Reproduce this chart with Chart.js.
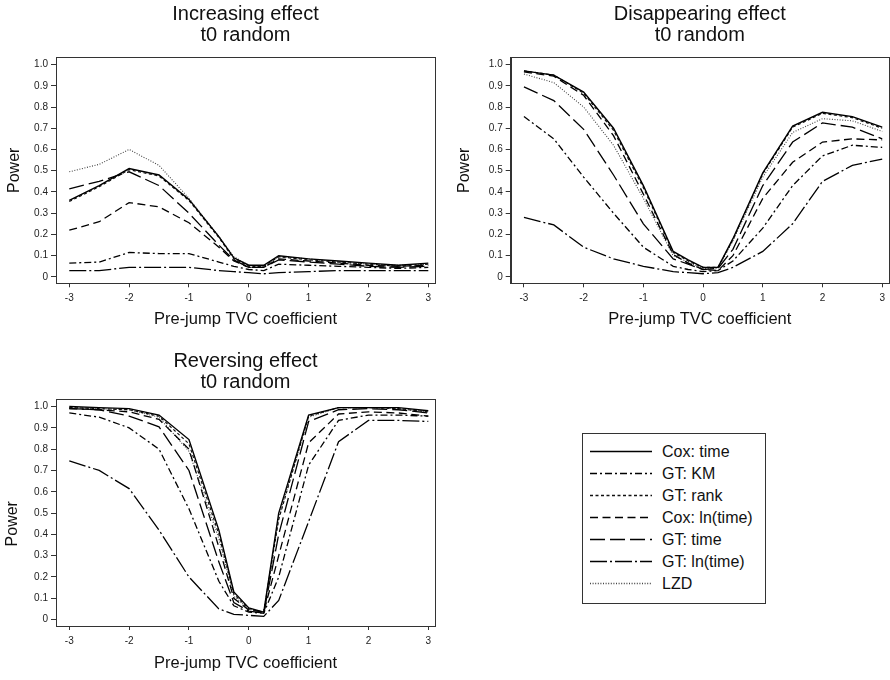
<!DOCTYPE html>
<html>
<head>
<meta charset="utf-8">
<script src="https://cdn.jsdelivr.net/npm/chart.js@4/dist/chart.umd.min.js"></script>
<style>
  html, body { margin: 0; padding: 0; background: #fff; }
  body { width: 890px; height: 680px; position: relative; overflow: hidden; font-family: "Liberation Sans", Arial, sans-serif; }
  canvas { position: absolute; }
  #legend { position: absolute; left: 582px; top: 433px; width: 184px; height: 171px; border: 1px solid #333; box-sizing: border-box; }
  #legend svg { position: absolute; left: 0; top: 0; }
  #legend .lbl { position: absolute; left: 79px; font-size: 16px; line-height: 18px; color: #111; white-space: nowrap; }
</style>
</head>
<body>
<canvas id="c1" width="445" height="340" style="left:0;top:0"></canvas>
<canvas id="c2" width="445" height="340" style="left:445px;top:0"></canvas>
<canvas id="c3" width="445" height="340" style="left:0;top:340px"></canvas>
<div id="legend"></div>
<script>
// ---------- data ----------
const xValues = [-3, -2.5, -2, -1.5, -1, -0.5, -0.25, 0, 0.25, 0.5, 1, 1.5, 2, 2.5, 3];
const xTicks = [-3, -2, -1, 0, 1, 2, 3];
const yTicks = [0, 0.1, 0.2, 0.3, 0.4, 0.5, 0.6, 0.7, 0.8, 0.9, 1.0];
const seriesNames = ['Cox: time', 'GT: KM', 'GT: rank', 'Cox: ln(time)', 'GT: time', 'GT: ln(time)', 'LZD'];
const panelTitles = [['Increasing effect', 't0 random'], ['Disappearing effect', 't0 random'], ['Reversing effect', 't0 random']];
const xAxisTitle = 'Pre-jump TVC coefficient';
const yAxisTitle = 'Power';

// Increasing effect
const incCoxTime = [0.36, 0.43, 0.51, 0.48, 0.365, 0.19, 0.09, 0.055, 0.055, 0.10, 0.085, 0.075, 0.065, 0.055, 0.065];
const incGtKm    = [0.065, 0.07, 0.115, 0.11, 0.11, 0.07, 0.05, 0.035, 0.03, 0.06, 0.055, 0.05, 0.045, 0.04, 0.045];
const incGtRank  = [0.355, 0.425, 0.505, 0.475, 0.36, 0.185, 0.085, 0.05, 0.05, 0.095, 0.08, 0.07, 0.06, 0.05, 0.06];
const incCoxLn   = [0.22, 0.26, 0.35, 0.33, 0.255, 0.14, 0.075, 0.045, 0.045, 0.085, 0.075, 0.065, 0.055, 0.05, 0.055];
const incGtTime  = [0.415, 0.45, 0.495, 0.43, 0.30, 0.15, 0.08, 0.045, 0.045, 0.08, 0.07, 0.06, 0.05, 0.045, 0.05];
const incGtLn    = [0.03, 0.03, 0.045, 0.045, 0.045, 0.03, 0.025, 0.02, 0.015, 0.02, 0.025, 0.03, 0.03, 0.03, 0.03];
const incLzd     = [0.495, 0.53, 0.60, 0.525, 0.37, 0.19, 0.095, 0.055, 0.05, 0.095, 0.085, 0.07, 0.06, 0.055, 0.06];

// Disappearing effect
const disCoxTime = [0.97, 0.95, 0.87, 0.70, 0.43, 0.12, 0.08, 0.045, 0.045, 0.18, 0.49, 0.71, 0.775, 0.755, 0.705];
const disGtKm    = [0.755, 0.65, 0.47, 0.30, 0.14, 0.05, 0.035, 0.025, 0.03, 0.075, 0.23, 0.43, 0.57, 0.62, 0.61];
const disGtRank  = [0.97, 0.95, 0.865, 0.69, 0.42, 0.115, 0.075, 0.045, 0.045, 0.175, 0.485, 0.705, 0.77, 0.75, 0.70];
const disCoxLn   = [0.965, 0.945, 0.855, 0.665, 0.39, 0.105, 0.065, 0.035, 0.03, 0.10, 0.37, 0.54, 0.635, 0.65, 0.645];
const disGtTime  = [0.895, 0.83, 0.695, 0.48, 0.25, 0.085, 0.06, 0.035, 0.04, 0.13, 0.43, 0.635, 0.725, 0.705, 0.65];
const disGtLn    = [0.28, 0.245, 0.14, 0.085, 0.05, 0.025, 0.02, 0.015, 0.02, 0.045, 0.12, 0.25, 0.45, 0.525, 0.555];
const disLzd     = [0.955, 0.915, 0.80, 0.62, 0.37, 0.10, 0.07, 0.04, 0.04, 0.17, 0.47, 0.68, 0.745, 0.735, 0.685];

// Reversing effect
const revCoxTime = [1.0, 0.995, 0.99, 0.96, 0.845, 0.42, 0.13, 0.055, 0.035, 0.50, 0.96, 0.995, 0.995, 0.995, 0.98];
const revGtKm    = [0.97, 0.95, 0.90, 0.80, 0.52, 0.18, 0.065, 0.035, 0.03, 0.20, 0.725, 0.935, 0.96, 0.96, 0.955];
const revGtRank  = [0.995, 0.99, 0.985, 0.955, 0.825, 0.40, 0.12, 0.05, 0.035, 0.47, 0.955, 0.995, 0.995, 0.99, 0.975];
const revCoxLn   = [0.99, 0.985, 0.975, 0.94, 0.80, 0.34, 0.10, 0.045, 0.035, 0.30, 0.83, 0.965, 0.975, 0.97, 0.955];
const revGtTime  = [0.99, 0.985, 0.955, 0.905, 0.70, 0.27, 0.08, 0.04, 0.03, 0.40, 0.93, 0.985, 0.99, 0.985, 0.97];
const revGtLn    = [0.745, 0.70, 0.615, 0.42, 0.20, 0.05, 0.025, 0.02, 0.015, 0.09, 0.46, 0.835, 0.935, 0.935, 0.93];
const revLzd     = [0.995, 0.99, 0.985, 0.95, 0.79, 0.38, 0.11, 0.05, 0.035, 0.48, 0.95, 0.995, 0.995, 0.99, 0.975];

// ---------- styles ----------
const lineDashes = [[], [7, 3, 2, 3], [3, 2.5], [8, 4.5], [15, 5], [17, 3, 2, 3], [1, 1.6]];
const lineColors = ['#000', '#000', '#111', '#000', '#000', '#000', '#444'];
const lineWidths = [1.4, 1.3, 1.2, 1.3, 1.3, 1.3, 1.1];
const FONT = '"Liberation Sans", Arial, sans-serif';
const X_MIN = -3.222, X_MAX = 3.112, Y_MIN = -0.03, Y_MAX = 1.034;

const framePlugin = {
  id: 'frame',
  afterDatasetsDraw(chart) {
    const {ctx, chartArea: a} = chart;
    ctx.save();
    ctx.strokeStyle = '#333';
    ctx.lineWidth = 1;
    ctx.setLineDash([]);
    ctx.strokeRect(Math.round(a.left) + 0.5, Math.round(a.top) + 0.5, Math.round(a.right - a.left), Math.round(a.bottom - a.top));
    ctx.restore();
  }
};

function makePanel(id, title, series, g) {
  const datasets = series.map((arr, k) => ({
    label: seriesNames[k],
    data: xValues.map((x, i) => ({x: x, y: arr[i]})),
    borderColor: lineColors[k],
    borderWidth: lineWidths[k],
    borderDash: lineDashes[k],
    pointRadius: 0,
    fill: false,
    tension: 0
  }));
  return new Chart(document.getElementById(id), {
    type: 'line',
    data: {datasets},
    options: {
      responsive: false,
      animation: false,
      events: [],
      layout: {padding: {left: 0, right: g.padRight, top: 0, bottom: 0}},
      plugins: {
        legend: {display: false},
        tooltip: {enabled: false},
        title: {
          display: true, text: title, fullSize: false, color: '#111',
          font: {family: FONT, size: 20, weight: 'normal', lineHeight: 1.05},
          padding: {top: g.tTop, bottom: g.tBottom}
        }
      },
      scales: {
        x: {
          type: 'linear', min: X_MIN, max: X_MAX,
          afterBuildTicks: s => { s.ticks = xTicks.map(v => ({value: v})); },
          afterFit: s => { s.height = g.xHeight; },
          grid: {drawOnChartArea: false, drawTicks: true, tickLength: 4, color: '#333', lineWidth: 1},
          border: {display: true, color: '#333', width: 1},
          ticks: {autoSkip: false, maxRotation: 0, padding: 5, color: '#222', font: {family: FONT, size: 10}, callback: v => String(v)},
          title: {display: true, text: xAxisTitle, color: '#111', font: {family: FONT, size: 16.5, weight: 'normal'}, padding: {top: 0, bottom: g.xTitleBottom}}
        },
        y: {
          type: 'linear', min: Y_MIN, max: Y_MAX,
          afterBuildTicks: s => { s.ticks = yTicks.map(v => ({value: v})); },
          afterFit: s => { s.width = g.yWidth; },
          grid: {drawOnChartArea: false, drawTicks: true, tickLength: 5, color: '#333', lineWidth: 1},
          border: {display: true, color: '#333', width: 1},
          ticks: {autoSkip: false, padding: 3, color: '#222', font: {family: FONT, size: 10}, callback: v => (v === 0 ? '0' : v.toFixed(1))},
          title: {display: true, text: yAxisTitle + g.yTitlePadChars, color: '#111', font: {family: FONT, size: 16, weight: 'normal'}, padding: {top: g.yTitleTop, bottom: 0}}
        }
      }
    },
    plugins: [framePlugin]
  });
}

makePanel('c1', panelTitles[0], [incCoxTime, incGtKm, incGtRank, incCoxLn, incGtTime, incGtLn, incLzd],
  {yWidth: 56, padRight: 10, tTop: 3.5, tBottom: 11.8, xHeight: 56.7, xTitleBottom: 11.1, yTitleTop: 5.4, yTitlePadChars: ''});
makePanel('c2', panelTitles[1], [disCoxTime, disGtKm, disGtRank, disCoxLn, disGtTime, disGtLn, disLzd],
  {yWidth: 65.7, padRight: 1.1, tTop: 3.5, tBottom: 11.8, xHeight: 56.7, xTitleBottom: 11.1, yTitleTop: 10.1, yTitlePadChars: ''});
makePanel('c3', panelTitles[2], [revCoxTime, revGtKm, revGtRank, revCoxLn, revGtTime, revGtLn, revLzd],
  {yWidth: 56, padRight: 10, tTop: 10.5, tBottom: 6.8, xHeight: 54, xTitleBottom: 6.6, yTitleTop: 3.4, yTitlePadChars: '\u00a0\u00a0\u00a0\u00a0\u00a0'});

// ---------- legend ----------
(function buildLegend() {
  const box = document.getElementById('legend');
  const NS = 'http://www.w3.org/2000/svg';
  const svg = document.createElementNS(NS, 'svg');
  svg.setAttribute('width', '182');
  svg.setAttribute('height', '169');
  seriesNames.forEach((name, k) => {
    const cy = 17.5 + 22 * k;
    const ln = document.createElementNS(NS, 'line');
    ln.setAttribute('x1', '7'); ln.setAttribute('x2', '69');
    ln.setAttribute('y1', String(cy)); ln.setAttribute('y2', String(cy));
    ln.setAttribute('stroke', lineColors[k]);
    ln.setAttribute('stroke-width', String(lineWidths[k] + 0.2));
    if (lineDashes[k].length) ln.setAttribute('stroke-dasharray', lineDashes[k].join(' '));
    svg.appendChild(ln);
    const t = document.createElement('div');
    t.className = 'lbl';
    t.style.top = (cy - 9) + 'px';
    t.textContent = name;
    box.appendChild(t);
  });
  box.appendChild(svg);
})();
</script>
</body>
</html>
